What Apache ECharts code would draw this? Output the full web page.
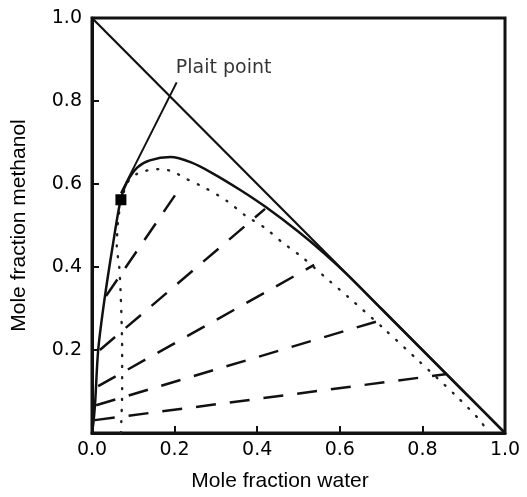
<!DOCTYPE html>
<html>
<head>
<meta charset="utf-8">
<script src="https://cdn.jsdelivr.net/npm/echarts@6/dist/echarts.min.js"></script>
<style>
html,body{margin:0;padding:0;background:#fff;}
#chart{width:527px;height:497px;}
</style>
</head>
<body>
<div id="chart"></div>
<script>
// ---- data ----
const tickValues = [0, 0.2, 0.4, 0.6, 0.8, 1.0];
const diagonal = [[0, 1], [1, 0]];
const binodalSolid = [[0,0],[0.004,0.03],[0.008,0.08],[0.015,0.2],[0.03,0.32],[0.05,0.45],[0.07,0.565],[0.085,0.605],[0.11,0.64],[0.14,0.657],[0.19,0.665],[0.24,0.652],[0.29,0.627],[0.36,0.585],[0.42,0.545],[0.5,0.485],[0.56,0.435],[0.62,0.38],[0.7,0.3],[0.8,0.2],[0.9,0.1],[1,0]];
const binodalDotted = [[0.07,0],[0.073,0.1],[0.073,0.2],[0.07,0.32],[0.066,0.4],[0.06,0.45],[0.064,0.52],[0.075,0.575],[0.09,0.61],[0.11,0.625],[0.14,0.634],[0.17,0.636],[0.2,0.628],[0.225,0.614],[0.275,0.59],[0.327,0.559],[0.37,0.525],[0.419,0.494],[0.46,0.46],[0.511,0.422],[0.565,0.375],[0.62,0.328],[0.705,0.253],[0.794,0.171],[0.879,0.092],[0.939,0.031],[0.96,0]];
const tieLine1 = [[0.007,0.031],[0.860,0.142]];
const tieLine2 = [[0.010,0.067],[0.717,0.277]];
const tieLine3 = [[0.015,0.113],[0.538,0.405]];
const tieLine4 = [[0.019,0.200],[0.419,0.540]];
const tieLine5 = [[0.034,0.330],[0.208,0.583]];
const plaitPoint = [[0.070, 0.562]];
const plaitPointer = [[0.07,0.578],[0.205,0.845]];
const plaitLabelAt = [[0.203, 0.88]];
const plaitLabel = 'Plait point';
const xTitle = 'Mole fraction water';
const yTitle = 'Mole fraction methanol';

const tieLines = [tieLine1, tieLine2, tieLine3, tieLine4, tieLine5];
const INK = '#111';

const chart = echarts.init(document.getElementById('chart'), null, {renderer:'canvas'});

function lineSeries(data, style, smooth){
  return {type:'line', data:data, symbol:'none', smooth:smooth||false, silent:true,
          lineStyle:Object.assign({color:INK}, style), z:3};
}

const series = [];
series.push(lineSeries(diagonal, {width:2.2}));
series.push(lineSeries(binodalDotted, {width:2.4, type:[1,10], cap:'round', color:'#222'}, 0.25));
series.push(lineSeries(binodalSolid, {width:2.5}, 0.3));
tieLines.forEach(t => series.push(lineSeries(t, {width:2.5, type:[20,14]})));
series.push(lineSeries(plaitPointer, {width:2}));
series.push({type:'scatter', data:plaitPoint, symbol:'rect', symbolSize:11, itemStyle:{color:'#000', opacity:1}, z:6, silent:true});
series.push({type:'scatter', data:plaitLabelAt, symbolSize:0, silent:true,
  label:{show:true, position:'right', distance:0, formatter:plaitLabel,
         fontFamily:'DejaVu Sans', fontSize:19, color:'#000'}});

const option = {
  backgroundColor:'#fff',
  animation:false,
  grid:{left:92, right:22, top:18, bottom:64, show:true, borderColor:INK, borderWidth:3, backgroundColor:'transparent'},
  xAxis:{type:'value', min:0, max:1, interval:0.2,
    name:xTitle, nameLocation:'middle', nameGap:38,
    nameTextStyle:{fontFamily:'Liberation Sans', fontSize:21, color:'#000', padding:[0,37,0,0]},
    axisLine:{show:true, lineStyle:{color:INK, width:3}},
    axisTick:{show:true, inside:true, length:7, lineStyle:{color:INK, width:2}},
    axisLabel:{margin:8, fontFamily:'DejaVu Sans', fontSize:19, color:'#000', formatter:v=>v.toFixed(1)},
    splitLine:{show:false}},
  yAxis:{type:'value', min:0, max:1, interval:0.2,
    name:yTitle, nameLocation:'middle', nameGap:62,
    nameTextStyle:{fontFamily:'Liberation Sans', fontSize:21, color:'#000'},
    axisLine:{show:true, lineStyle:{color:INK, width:3}},
    axisTick:{show:true, inside:true, length:7, lineStyle:{color:INK, width:2}},
    axisLabel:{margin:10, showMinLabel:false, fontFamily:'DejaVu Sans', fontSize:19, color:'#000', formatter:v=>v.toFixed(1)},
    splitLine:{show:false}},
  series:series
};
chart.setOption(option);
</script>
</body>
</html>
